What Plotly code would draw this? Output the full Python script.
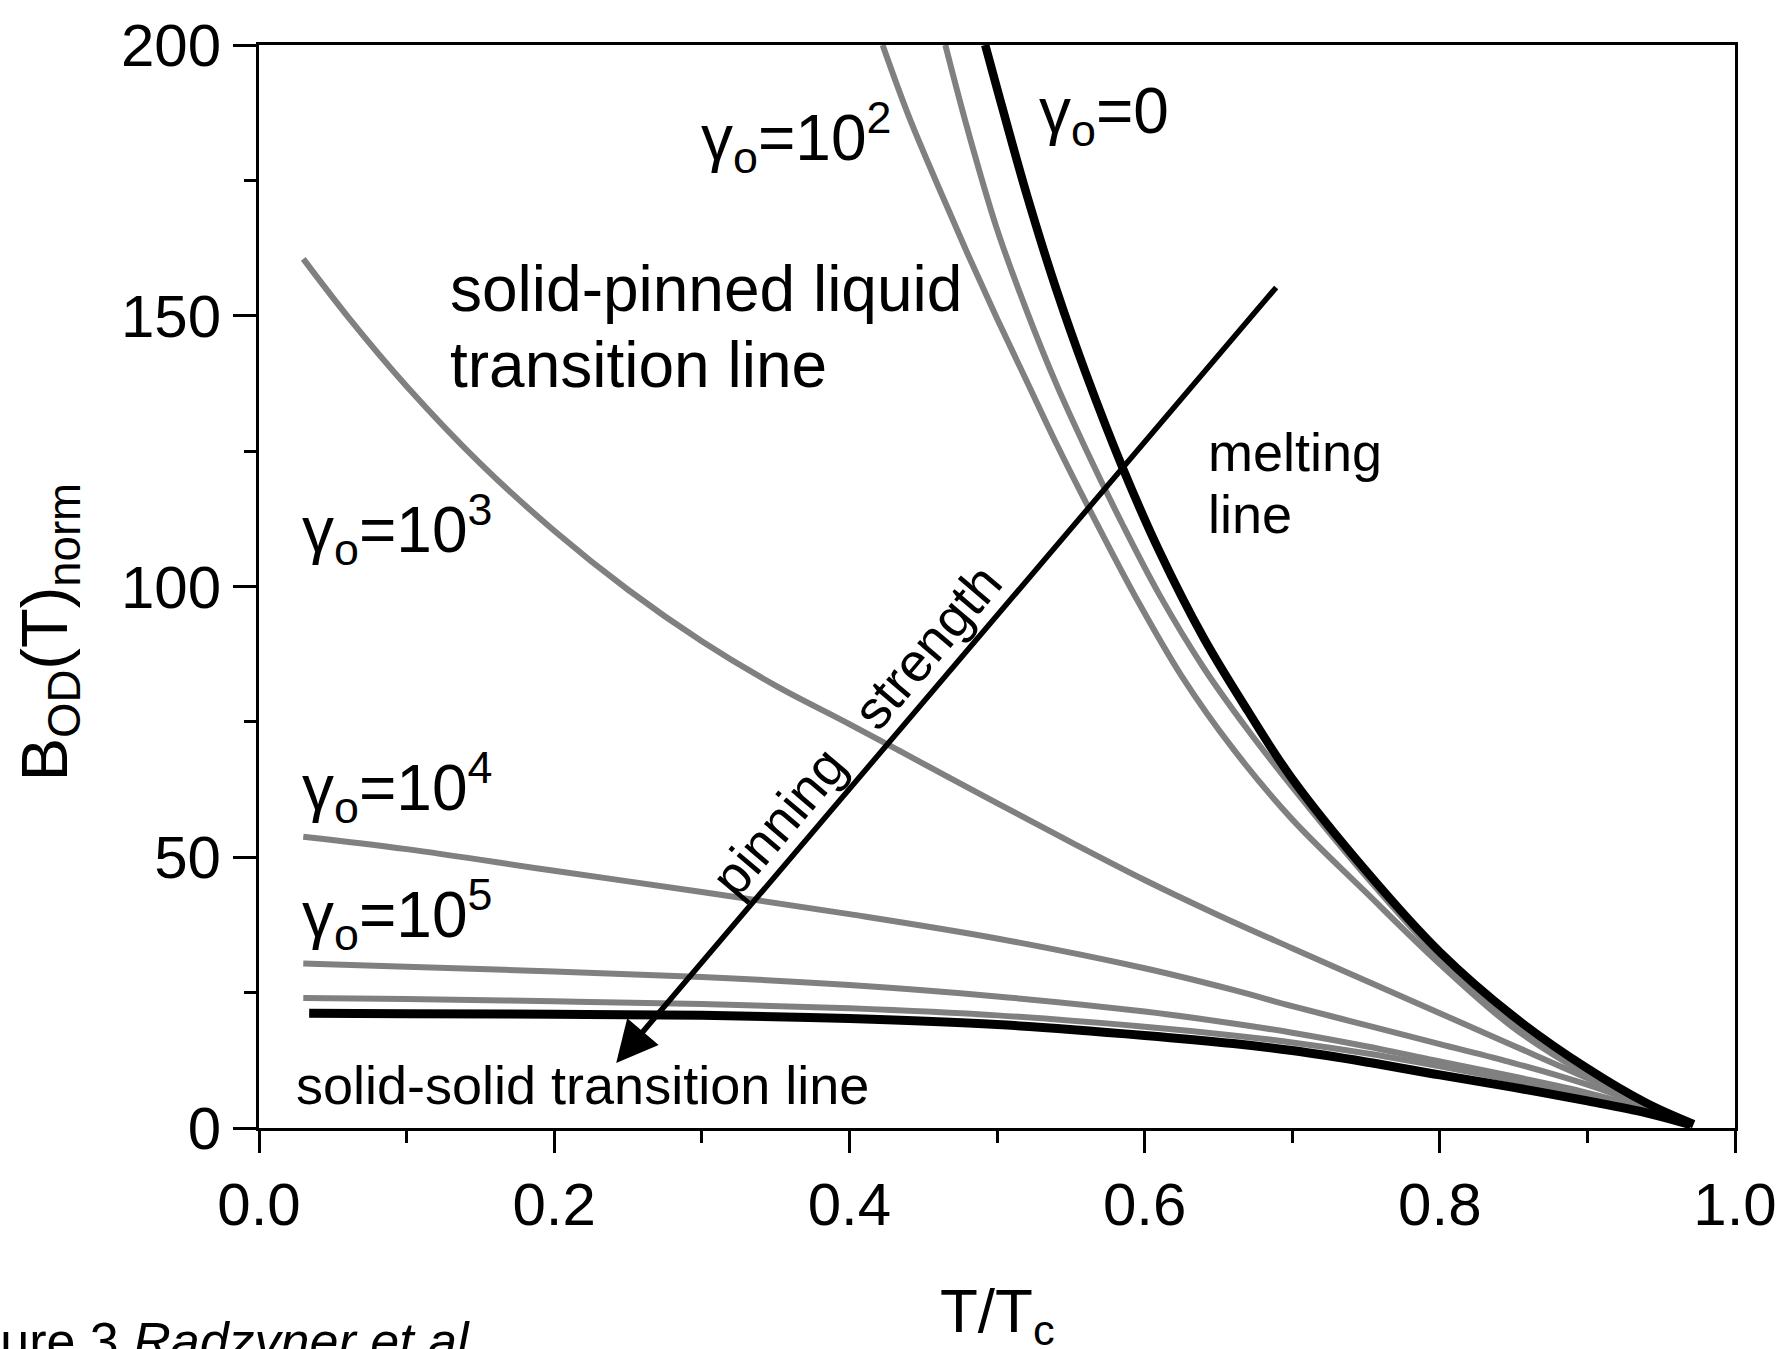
import plotly.graph_objects as go

# ---------------- data ----------------
# gamma_o = 0 (melting line, thick black)
x_g0 = [0.492, 0.50, 0.52, 0.54, 0.56, 0.585, 0.61, 0.64, 0.67, 0.70, 0.75, 0.80, 0.85, 0.90, 0.94, 0.972]
y_g0 = [200, 192, 172.5, 155, 139.5, 122, 106.5, 90.5, 77, 64.5, 47.5, 32.5, 20.6, 11, 4.6, 0.7]

# gamma_o = 10 (gray, next to melting line)
x_g1 = [0.465, 0.48, 0.50, 0.52, 0.54, 0.56, 0.585, 0.61, 0.64, 0.67, 0.70, 0.75, 0.80, 0.85, 0.90, 0.94, 0.97]
y_g1 = [200, 184.5, 166, 151, 137.5, 125.5, 111.5, 98.5, 85, 73.5, 63, 46.5, 31.5, 19.5, 10, 4.2, 0.5]

# gamma_o = 10^2
x_g2 = [0.4225, 0.44, 0.46, 0.48, 0.50, 0.52, 0.54, 0.565, 0.594, 0.625, 0.66, 0.70, 0.75, 0.80, 0.85, 0.90, 0.94, 0.97]
y_g2 = [200, 187, 174, 161.5, 149.5, 138, 126.5, 113, 98, 83.5, 70, 57, 43.5, 30.3, 18.5, 9.8, 4.2, 0.5]

# gamma_o = 10^3
x_g3 = [0.03, 0.06, 0.1, 0.15, 0.2, 0.25, 0.3, 0.35, 0.4, 0.45, 0.5, 0.55, 0.6, 0.65, 0.7, 0.75, 0.8, 0.85, 0.9, 0.94, 0.97]
y_g3 = [160.5, 149.9, 137, 122.7, 110.3, 99.4, 89.9, 81.7, 74.6, 67.3, 60, 52.8, 45.8, 39.3, 33.2, 27.2, 21.2, 15.2, 9.2, 4.4, 0.7]

# gamma_o = 10^4, 10^5, 10^6 share the same T/Tc samples
x_low = [0.03, 0.1, 0.2, 0.3, 0.4, 0.5, 0.6, 0.66, 0.7, 0.75, 0.8, 0.85, 0.9, 0.94, 0.97]
y_g4 = [53.8, 51.5, 47.5, 43.6, 39.5, 35, 29.5, 25.5, 22.5, 19, 15.5, 12, 8, 4, 0.5]
y_g5 = [30.4, 29.8, 28.9, 27.9, 26.4, 24.3, 21.5, 19.3, 17.6, 15.1, 12.3, 9.5, 6.5, 3.5, 0.5]
y_g6 = [24.0, 23.8, 23.4, 22.9, 22.1, 20.8, 18.7, 17.1, 15.8, 13.8, 11.4, 8.8, 6.0, 3.2, 0.5]

# solid-solid transition line (thick black)
x_ss = [0.034, 0.1, 0.2, 0.3, 0.4, 0.5, 0.6, 0.66, 0.7, 0.75, 0.8, 0.85, 0.9, 0.94, 0.97]
y_ss = [21.2, 21.1, 21.0, 20.8, 20.2, 19.1, 17.1, 15.6, 14.3, 12.2, 9.8, 7.5, 5.0, 2.8, 0.6]

# arrow "pinning strength": tail and tip (data coords)
arrow_tail = (0.69, 155.5)
arrow_tip = (0.242, 12.0)

# axis ticks
x_range = [0, 1.0]
y_range = [0, 200]
x_dtick, x_minor = 0.2, 0.1
y_dtick, y_minor = 50, 25

FONT = "Liberation Sans, Arial, Helvetica, sans-serif"
GRAY = "#808080"

fig = go.Figure()

def add_line(x, y, color, width):
    fig.add_trace(go.Scatter(x=x, y=y, mode="lines",
                             line=dict(color=color, width=width, shape="spline", smoothing=1.0),
                             showlegend=False, hoverinfo="skip"))

add_line(x_g3, y_g3, GRAY, 6)
add_line(x_low, y_g4, GRAY, 6)
add_line(x_low, y_g5, GRAY, 6)
add_line(x_low, y_g6, GRAY, 6)
add_line(x_g2, y_g2, GRAY, 6)
add_line(x_g1, y_g1, GRAY, 6)
add_line(x_ss, y_ss, "black", 9)
add_line(x_g0, y_g0, "black", 8.5)

annotations = []

def label(text, x, y, size, xanchor="left", yanchor="bottom", yshift=0, xref="x", yref="y", **kw):
    annotations.append(dict(text=text, x=x, y=y, xref=xref, yref=yref, showarrow=False,
                            xanchor=xanchor, yanchor=yanchor, yshift=yshift,
                            font=dict(family=FONT, size=size, color="black"), **kw))

BIG = 64
SMALL = 54
# gamma labels
label("γ<sub>o</sub>=10<sup>2</sup>", 0.298, 173.9, BIG, yshift=2)
label("γ<sub>o</sub>=0", 0.527, 178.9, BIG, yshift=2)
label("γ<sub>o</sub>=10<sup>3</sup>", 0.028, 101.5, BIG, yshift=2)
label("γ<sub>o</sub>=10<sup>4</sup>", 0.028, 54.0, BIG, yshift=2)
label("γ<sub>o</sub>=10<sup>5</sup>", 0.028, 30.5, BIG, yshift=2)

label("solid-pinned liquid", 0.128, 147.9, BIG)
label("transition line", 0.128, 133.9, BIG)
label("melting", 0.6415, 118.9, SMALL)
label("line", 0.6415, 107.5, SMALL)
label("solid-solid transition line", 0.0236, 1.95, SMALL)

# pinning strength text along the arrow
label("pinning\u00a0\u00a0\u00a0strength", 0.4045, 73.5, SMALL, xanchor="center", yanchor="middle",
      textangle=-49.7)

# arrow
annotations.append(dict(x=arrow_tip[0], y=arrow_tip[1], ax=arrow_tail[0], ay=arrow_tail[1],
                        xref="x", yref="y", axref="x", ayref="y", text="", showarrow=True,
                        arrowhead=2, arrowsize=1.5, arrowwidth=5.5, arrowcolor="black", standoff=0,
                        startstandoff=0))

# axis titles
label("T/T<sub>c</sub>", 0.5, 0, 62, xanchor="center", yanchor="top", yshift=-146,
      xref="paper", yref="paper")
label("B<sub>OD</sub>(T)<sub>norm</sub>", 0, 0.4577, 65, xanchor="center", yanchor="middle",
      xref="paper", yref="paper", textangle=-90, xshift=-210)

# clipped caption at the bottom left
label("Figure 3 <i>Radzyner et al.</i>", -0.2255, -0.2256, 52, xref="paper", yref="paper")

axis_common = dict(showline=True, linewidth=3, linecolor="black", mirror=True,
                   ticks="outside", tickwidth=3, tickcolor="black", showgrid=False,
                   zeroline=False, tickfont=dict(family=FONT, size=60, color="black"))

fig.update_layout(
    width=1789, height=1349,
    margin=dict(l=259, r=49, t=40, b=221, pad=0),
    paper_bgcolor="white", plot_bgcolor="white",
    xaxis=dict(range=x_range, tick0=0, dtick=x_dtick, tickformat=".1f", ticklen=22,
               minor=dict(dtick=x_minor, tick0=0, ticks="outside", ticklen=12, tickwidth=3,
                          tickcolor="black", showgrid=False),
               **axis_common),
    yaxis=dict(range=y_range, tick0=0, dtick=y_dtick, ticklen=23,
               minor=dict(dtick=y_minor, tick0=0, ticks="outside", ticklen=12, tickwidth=3,
                          tickcolor="black", showgrid=False),
               **axis_common),
    annotations=annotations,
    showlegend=False,
)

fig.write_html("out.html", config={"displayModeBar": False},
               post_script="document.body.style.margin='0px';")
